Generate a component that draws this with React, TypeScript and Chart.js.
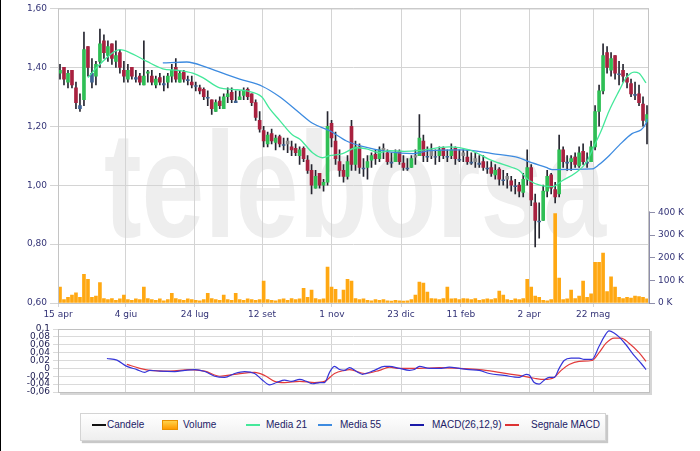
import React, { useEffect, useRef } from 'react';
import { Chart, registerables } from 'chart.js';

Chart.register(...registerables);
Chart.defaults.font.family = '"DejaVu Sans", sans-serif';
Chart.defaults.font.size = 9;

// ---- axis ticks ----
const xTickPos = [-0.5, 16.5, 33.8, 50.6, 68.1, 85.4, 100.4, 117.5, 133.5];
const xTickLabels = ['15 apr', '4 giu', '24 lug', '12 set', '1 nov', '23 dic', '11 feb', '2 apr', '22 mag'];
const priceTicks = [0.6, 0.8, 1.0, 1.2, 1.4, 1.6];
const volTicks = [0, 100000, 200000, 300000, 400000];
const macdTicks = [-0.06, -0.04, -0.02, 0, 0.02, 0.04, 0.06, 0.08, 0.1];

// ---- candles (one per bar index) ----
const openP = [
  1.38, 1.40, 1.35, 1.39, 1.33, 1.26, 1.29, 1.47, 1.35, 1.37,
  1.42, 1.49, 1.44, 1.48, 1.42, 1.45, 1.39, 1.36, 1.40, 1.36,
  1.37, 1.34, 1.38, 1.37, 1.34, 1.365, 1.34, 1.35, 1.37, 1.40,
  1.35, 1.385, 1.355, 1.35, 1.335, 1.33, 1.325, 1.295, 1.29, 1.25,
  1.285, 1.26, 1.30, 1.315, 1.28, 1.29, 1.305, 1.325, 1.31, 1.28,
  1.22, 1.185, 1.14, 1.175, 1.145, 1.165, 1.135, 1.15, 1.13, 1.125,
  1.10, 1.125, 1.085, 1.05, 0.99, 1.04, 1.00, 1.01, 1.21, 1.15,
  1.08, 1.05, 1.03, 1.20, 1.07, 1.13, 1.055, 1.06, 1.085, 1.105,
  1.09, 1.125, 1.11, 1.075, 1.08, 1.115, 1.075, 1.055, 1.06, 1.10,
  1.10, 1.15, 1.095, 1.12, 1.095, 1.10, 1.125, 1.095, 1.10, 1.125,
  1.085, 1.11, 1.095, 1.075, 1.09, 1.07, 1.08, 1.055, 1.06, 1.035,
  1.055, 1.015, 1.03, 1.015, 0.995, 1.00, 0.975, 1.02, 1.06, 0.94,
  0.875, 0.88, 0.98, 1.035, 0.985, 0.97, 1.12, 1.075, 1.08, 1.095,
  1.065, 1.115, 1.075, 1.08, 1.13, 1.25, 1.32, 1.45, 1.39, 1.44,
  1.375, 1.39, 1.365, 1.345, 1.305, 1.31, 1.275, 1.215,
];
const highP = [
  1.41, 1.40, 1.39, 1.39, 1.35, 1.31, 1.52, 1.47, 1.43, 1.42,
  1.53, 1.51, 1.49, 1.48, 1.49, 1.46, 1.42, 1.41, 1.40, 1.39,
  1.38, 1.49, 1.39, 1.39, 1.37, 1.38, 1.37, 1.38, 1.41, 1.43,
  1.39, 1.39, 1.37, 1.37, 1.35, 1.34, 1.33, 1.32, 1.29, 1.29,
  1.30, 1.31, 1.33, 1.33, 1.32, 1.32, 1.33, 1.33, 1.31, 1.29,
  1.25, 1.20, 1.18, 1.19, 1.17, 1.17, 1.16, 1.16, 1.15, 1.14,
  1.13, 1.13, 1.10, 1.07, 1.05, 1.04, 1.02, 1.25, 1.22, 1.18,
  1.12, 1.07, 1.10, 1.22, 1.15, 1.14, 1.09, 1.10, 1.11, 1.12,
  1.13, 1.14, 1.12, 1.11, 1.12, 1.12, 1.10, 1.09, 1.10, 1.12,
  1.24, 1.17, 1.13, 1.14, 1.12, 1.13, 1.13, 1.12, 1.14, 1.13,
  1.12, 1.12, 1.12, 1.11, 1.11, 1.10, 1.10, 1.08, 1.08, 1.07,
  1.06, 1.05, 1.04, 1.03, 1.02, 1.01, 1.04, 1.12, 1.07, 0.97,
  0.94, 1.00, 1.05, 1.04, 1.01, 1.17, 1.13, 1.10, 1.10, 1.11,
  1.13, 1.14, 1.11, 1.15, 1.27, 1.34, 1.48, 1.47, 1.45, 1.44,
  1.42, 1.41, 1.38, 1.36, 1.35, 1.34, 1.30, 1.27,
];
const lowP = [
  1.36, 1.34, 1.33, 1.33, 1.26, 1.25, 1.27, 1.37, 1.33, 1.34,
  1.40, 1.43, 1.42, 1.41, 1.40, 1.38, 1.35, 1.35, 1.36, 1.35,
  1.34, 1.34, 1.35, 1.34, 1.33, 1.34, 1.32, 1.33, 1.35, 1.35,
  1.35, 1.35, 1.34, 1.33, 1.32, 1.31, 1.29, 1.27, 1.24, 1.25,
  1.26, 1.26, 1.28, 1.28, 1.28, 1.29, 1.29, 1.29, 1.27, 1.22,
  1.18, 1.13, 1.13, 1.14, 1.12, 1.13, 1.12, 1.11, 1.10, 1.10,
  1.07, 1.08, 1.04, 0.97, 0.99, 0.99, 0.98, 1.00, 1.13, 1.07,
  1.03, 1.01, 1.02, 1.05, 1.05, 1.04, 1.03, 1.02, 1.06, 1.07,
  1.08, 1.09, 1.07, 1.06, 1.08, 1.07, 1.05, 1.05, 1.06, 1.07,
  1.10, 1.08, 1.08, 1.09, 1.07, 1.08, 1.09, 1.08, 1.09, 1.07,
  1.08, 1.08, 1.07, 1.07, 1.06, 1.06, 1.05, 1.04, 1.03, 1.02,
  1.00, 1.00, 0.99, 0.98, 0.97, 0.96, 0.96, 1.00, 0.93, 0.79,
  0.82, 0.88, 0.96, 0.97, 0.94, 0.96, 1.06, 1.05, 1.05, 1.06,
  1.06, 1.07, 1.06, 1.08, 1.12, 1.20, 1.31, 1.38, 1.37, 1.36,
  1.34, 1.35, 1.33, 1.30, 1.29, 1.27, 1.20, 1.14,
];
const closeP = [
  1.39, 1.36, 1.38, 1.34, 1.28, 1.27, 1.46, 1.40, 1.38, 1.41,
  1.48, 1.45, 1.47, 1.43, 1.44, 1.40, 1.37, 1.39, 1.37, 1.365,
  1.35, 1.37, 1.385, 1.35, 1.36, 1.35, 1.345, 1.37, 1.39, 1.36,
  1.38, 1.36, 1.358, 1.34, 1.338, 1.32, 1.30, 1.298, 1.26, 1.28,
  1.27, 1.30, 1.31, 1.29, 1.285, 1.30, 1.32, 1.30, 1.28, 1.23,
  1.19, 1.15, 1.17, 1.15, 1.16, 1.14, 1.138, 1.14, 1.12, 1.11,
  1.12, 1.09, 1.05, 1.00, 1.03, 1.00, 1.01, 1.20, 1.16, 1.09,
  1.05, 1.03, 1.08, 1.07, 1.13, 1.06, 1.058, 1.08, 1.10, 1.09,
  1.12, 1.12, 1.08, 1.078, 1.11, 1.08, 1.06, 1.058, 1.09, 1.095,
  1.16, 1.10, 1.098, 1.10, 1.097, 1.12, 1.10, 1.098, 1.12, 1.09,
  1.088, 1.10, 1.08, 1.078, 1.08, 1.075, 1.06, 1.058, 1.04, 1.05,
  1.02, 1.018, 1.02, 1.00, 0.998, 0.98, 1.02, 1.06, 0.95, 0.88,
  0.878, 0.98, 1.03, 0.99, 0.96, 1.12, 1.08, 1.078, 1.09, 1.07,
  1.11, 1.08, 1.078, 1.13, 1.25, 1.32, 1.44, 1.40, 1.43, 1.38,
  1.378, 1.37, 1.35, 1.31, 1.308, 1.28, 1.22, 1.24,
];
// volume in thousands
const volK = [
  70, 15, 25, 35, 45, 25, 127, 105, 25, 30,
  90, 20, 15, 20, 12, 18, 35, 15, 12, 18,
  15, 70, 20, 15, 12, 18, 10, 15, 43, 20,
  15, 12, 18, 15, 12, 10, 15, 43, 20, 15,
  12, 35, 15, 12, 43, 15, 12, 18, 15, 12,
  15, 97, 15, 12, 10, 15, 18, 12, 20, 15,
  18, 65, 25, 57, 20, 15, 18, 158, 70, 60,
  15, 57, 105, 97, 20, 15, 18, 12, 10, 15,
  12, 15, 10, 8, 12, 10, 8, 10, 15, 35,
  92, 88, 48, 20, 18, 15, 20, 70, 18, 20,
  15, 20, 18, 15, 20, 12, 15, 18, 15, 20,
  53, 35, 15, 12, 18, 15, 20, 105, 70, 30,
  25, 12, 10, 15, 395, 110, 15, 18, 57, 20,
  30, 97, 25, 40, 180, 180, 220, 50, 115, 70,
  25, 20, 25, 22, 30, 28, 25, 18,
];

// ---- moving averages (bar index, value) ----
const ma21X = [7, 9.25, 13.25, 15, 18.25, 21.75, 25.75, 29.25, 33.25, 35.75, 40, 43.25, 46.75, 50.5, 52.5, 55, 58.25, 60, 63.25, 65.75, 67.5, 70.75, 74.25, 76.75, 80, 82.5, 86.25, 90, 97.5, 102.5, 108.25, 113.25, 115, 117.5, 123.25, 125.75, 129.25, 131.75, 133.75, 135.5, 137.5, 140, 141.75, 143.75, 145, 146.75];
const ma21Y = [1.365, 1.40, 1.45, 1.46, 1.445, 1.42, 1.395, 1.39, 1.38, 1.365, 1.33, 1.325, 1.32, 1.30, 1.26, 1.22, 1.17, 1.157, 1.11, 1.093, 1.10, 1.107, 1.127, 1.123, 1.11, 1.117, 1.115, 1.118, 1.13, 1.12, 1.083, 1.06, 1.05, 1.016, 0.995, 1.015, 1.043, 1.076, 1.133, 1.184, 1.252, 1.32, 1.364, 1.384, 1.38, 1.347];
const ma55X = [25.75, 31.75, 36.75, 41.75, 45, 50.75, 55, 60, 63.25, 67.5, 71.75, 75.75, 82.5, 88.25, 92.5, 100.75, 108.25, 115, 116.75, 121.75, 123.25, 133.25, 135, 137.5, 140, 143.25, 146.75, 147];
const ma55Y = [1.415, 1.418, 1.40, 1.375, 1.36, 1.335, 1.30, 1.245, 1.21, 1.185, 1.15, 1.132, 1.113, 1.107, 1.117, 1.12, 1.107, 1.093, 1.083, 1.06, 1.053, 1.055, 1.07, 1.10, 1.135, 1.175, 1.21, 1.225];

// ---- MACD panel ----
const macdX = [11.75, 14.25, 16.75, 19.25, 21.25, 22.5, 25, 28.75, 31.25, 33.75, 36.25, 38.75, 41.25, 43.75, 46.25, 48.75, 50.5, 52.5, 54.25, 56.25, 58, 60, 61.75, 63.25, 65, 66.25, 67.5, 68.75, 70, 71.25, 72.5, 74.25, 75.75, 78.75, 81.25, 82.5, 85, 87.5, 88.75, 90, 92.5, 95, 97.5, 100, 102.5, 105, 107.5, 111.25, 115, 116.75, 117.5, 118.75, 120, 121.25, 122.5, 123.75, 125, 126.25, 128, 130, 131.25, 133.25, 135, 136.25, 137.5, 138.75, 140, 141.75, 143.75, 145.5, 146.75];
const macdY = [0.025, 0.021, 0.005, -0.003, -0.01, -0.005, -0.007, -0.008, -0.005, -0.003, -0.008, -0.02, -0.023, -0.013, -0.008, -0.013, -0.028, -0.042, -0.036, -0.03, -0.033, -0.028, -0.033, -0.039, -0.036, -0.036, -0.01, 0.005, -0.003, -0.005, 0.002, -0.008, -0.015, -0.005, 0.005, 0.005, 0, -0.005, -0.003, 0.005, 0, 0, 0.003, 0, -0.003, -0.005, -0.013, -0.018, -0.023, -0.015, -0.017, -0.036, -0.04, -0.03, -0.023, -0.023, 0, 0.02, 0.026, 0.026, 0.023, 0.023, 0.056, 0.08, 0.095, 0.09, 0.08, 0.06, 0.033, 0.013, -0.003];
const sigX = [16.75, 20, 22.5, 27.5, 32.5, 36.25, 40, 43.75, 48.75, 51.25, 53.75, 56.25, 60, 63.75, 66.25, 68.75, 71.25, 72.5, 76.25, 80, 82.5, 85, 90, 95, 100, 105, 110, 115, 118.75, 121.25, 123.75, 125.5, 127.5, 130, 133.25, 135, 136.75, 138.75, 140.5, 142.5, 145, 146.75];
const sigY = [0.01, 0, -0.005, -0.007, -0.003, -0.007, -0.02, -0.015, -0.01, -0.018, -0.033, -0.036, -0.033, -0.036, -0.033, -0.013, -0.005, -0.003, -0.013, -0.005, 0.003, 0, 0, 0.002, 0, -0.003, -0.01, -0.018, -0.025, -0.028, -0.023, -0.005, 0.01, 0.018, 0.02, 0.04, 0.064, 0.077, 0.077, 0.064, 0.04, 0.018];

// ---- legend ----
const legendLabels = ['Candele', 'Volume', 'Media 21', 'Media 55', 'MACD(26,12,9)', 'Segnale MACD'];
const legendColors = ['#111111', '#ffa500', '#44e89a', '#3d8be0', '#1a1aa8', '#dd3333'];
const legendSwatchX = [92, 162, 246, 318, 410, 505];
const legendTextX = [107, 183, 266, 340, 432, 531];

const TICK_COLOR = '#333377';
const GRID_COLOR = '#d4d4d4';

function bodyColor(i: number): string {
  const o = openP[i], c = closeP[i];
  const prev = i > 0 ? closeP[i - 1] : o;
  if (c >= o && c >= prev) return '#2fbf55';
  if (c < o && c < prev) return '#a8213f';
  if (c >= o) return '#3f6394';
  return '#8a8a8a';
}

const pts = (xs: number[], ys: number[]) => xs.map((x, k) => ({ x, y: ys[k] }));

const xScaleBase = {
  type: 'linear' as const,
  min: -0.5,
  max: 147.5,
  offset: false,
  afterBuildTicks: (s: any) => {
    s.ticks = xTickPos.map((v) => ({ value: v }));
  },
};

const watermark = {
  id: 'watermark',
  beforeDraw(chart: any) {
    const ctx = chart.ctx;
    ctx.save();
    ctx.fillStyle = '#eeeeee';
    ctx.font = 'bold 150px "Liberation Sans", sans-serif';
    const w = ctx.measureText('teleborsa').width;
    ctx.translate(104, 237);
    ctx.scale(502 / w, 1);
    ctx.textBaseline = 'alphabetic';
    ctx.fillText('teleborsa', 0, 0);
    ctx.restore();
  },
};

const mainFrame = {
  id: 'mainFrame',
  afterDraw(chart: any) {
    const { ctx, chartArea: a } = chart;
    ctx.save();
    ctx.strokeStyle = '#c4c4c4';
    ctx.lineWidth = 1;
    ctx.strokeRect(a.left + 0.5, a.top + 0.5, a.right - a.left - 1, a.bottom - a.top);
    const yv = chart.scales.yVol;
    ctx.strokeStyle = '#8e8eaa';
    ctx.beginPath();
    ctx.moveTo(a.right + 0.5, yv.getPixelForValue(400000) - 1);
    ctx.lineTo(a.right + 0.5, a.bottom);
    ctx.stroke();
    ctx.restore();
  },
};

const macdFrame = {
  id: 'macdFrame',
  afterDraw(chart: any) {
    const { ctx, chartArea: a } = chart;
    ctx.save();
    ctx.fillStyle = '#d6d6d6';
    ctx.fillRect(a.right + 1, a.top + 2, 2, a.bottom - a.top + 1);
    ctx.fillRect(a.left + 2, a.bottom + 1, a.right - a.left + 1, 2);
    ctx.strokeStyle = '#c0c0c0';
    ctx.lineWidth = 1;
    ctx.strokeRect(a.left + 0.5, a.top + 0.5, a.right - a.left, a.bottom - a.top);
    ctx.restore();
  },
};

function MainChart() {
  const ref = useRef<HTMLCanvasElement>(null);
  useEffect(() => {
    const idx = closeP.map((_, i) => i);
    const chart = new Chart(ref.current as HTMLCanvasElement, {
      type: 'bar',
      data: {
        datasets: [
          {
            type: 'line',
            label: 'Media 21',
            data: pts(ma21X, ma21Y),
            borderColor: '#44e89a',
            borderWidth: 1.3,
            pointRadius: 0,
            cubicInterpolationMode: 'monotone',
            yAxisID: 'y',
            order: 0,
          } as any,
          {
            type: 'line',
            label: 'Media 55',
            data: pts(ma55X, ma55Y),
            borderColor: '#3d8be0',
            borderWidth: 1.3,
            pointRadius: 0,
            cubicInterpolationMode: 'monotone',
            yAxisID: 'y',
            order: 0,
          } as any,
          {
            label: 'Candele',
            data: idx.map((i) => ({ x: i, y: [openP[i], closeP[i]] })),
            backgroundColor: idx.map(bodyColor),
            barThickness: 3,
            grouped: false,
            yAxisID: 'y',
            order: 1,
          } as any,
          {
            label: 'wick',
            data: idx.map((i) => ({ x: i, y: [lowP[i], highP[i]] })),
            backgroundColor: '#262630',
            barThickness: 1,
            grouped: false,
            yAxisID: 'y',
            order: 2,
          } as any,
          {
            label: 'Volume',
            data: idx.map((i) => ({ x: i, y: volK[i] * 1000 })),
            backgroundColor: '#ffa812',
            barThickness: 3,
            grouped: false,
            yAxisID: 'yVol',
            order: 3,
          } as any,
        ],
      },
      options: {
        responsive: false,
        animation: false,
        devicePixelRatio: 1,
        events: [],
        layout: { padding: { top: 7, left: 0, right: 0, bottom: 0 } },
        plugins: { legend: { display: false }, tooltip: { enabled: false } },
        scales: {
          x: {
            ...xScaleBase,
            grid: { color: GRID_COLOR, tickLength: 4, offset: false },
            border: { display: false },
            ticks: {
              autoSkip: false,
              maxRotation: 0,
              padding: 2,
              color: TICK_COLOR,
              font: { size: 9 },
              callback: (_v: any, i: number) => xTickLabels[i],
            },
            afterFit: (s: any) => {
              s.height = 17;
            },
          } as any,
          y: {
            position: 'left',
            min: 0.6,
            max: 1.6,
            afterBuildTicks: (s: any) => {
              s.ticks = priceTicks.map((v) => ({ value: v }));
            },
            grid: { color: GRID_COLOR, tickLength: 8 },
            border: { display: false },
            ticks: {
              padding: 3,
              color: TICK_COLOR,
              font: { size: 9 },
              callback: (v: any) => Number(v).toFixed(2).replace('.', ','),
            },
            afterFit: (s: any) => {
              s.width = 58;
            },
          } as any,
          yVol: {
            position: 'right',
            min: 0,
            max: 1300000,
            afterBuildTicks: (s: any) => {
              s.ticks = volTicks.map((v) => ({ value: v }));
            },
            grid: { drawOnChartArea: false, tickLength: 6, color: '#8e8eaa' },
            border: { display: false },
            ticks: {
              padding: 3,
              color: TICK_COLOR,
              font: { size: 9 },
              callback: (v: any) => Math.round(Number(v) / 1000) + ' K',
            },
            afterFit: (s: any) => {
              s.width = 51;
            },
          } as any,
        },
      },
      plugins: [watermark, mainFrame],
    });
    return () => chart.destroy();
  }, []);
  return (
    <canvas
      ref={ref}
      width={700}
      height={320}
      style={{ position: 'absolute', left: 0, top: 0, width: 700, height: 320 }}
    />
  );
}

function MacdChart() {
  const ref = useRef<HTMLCanvasElement>(null);
  useEffect(() => {
    const chart = new Chart(ref.current as HTMLCanvasElement, {
      type: 'line',
      data: {
        datasets: [
          {
            label: 'MACD(26,12,9)',
            data: pts(macdX, macdY),
            borderColor: '#3535d8',
            borderWidth: 1.2,
            pointRadius: 0,
            cubicInterpolationMode: 'monotone',
          },
          {
            label: 'Segnale MACD',
            data: pts(sigX, sigY),
            borderColor: '#e23a3a',
            borderWidth: 1.2,
            pointRadius: 0,
            cubicInterpolationMode: 'monotone',
          },
        ],
      },
      options: {
        responsive: false,
        animation: false,
        devicePixelRatio: 1,
        events: [],
        layout: { padding: { top: 9, left: 0, right: 51, bottom: 8 } },
        plugins: { legend: { display: false }, tooltip: { enabled: false } },
        scales: {
          x: {
            ...xScaleBase,
            grid: { color: GRID_COLOR, drawTicks: false, offset: false },
            border: { display: false },
            ticks: { display: false },
            afterFit: (s: any) => {
              s.height = 0;
            },
          } as any,
          y: {
            min: -0.06,
            max: 0.1,
            afterBuildTicks: (s: any) => {
              s.ticks = macdTicks.map((v) => ({ value: v }));
            },
            grid: { color: '#dadada', tickLength: 5 },
            border: { display: false },
            ticks: {
              autoSkip: false,
              padding: 3,
              color: '#222255',
              font: { size: 9, lineHeight: 1 },
              callback: (v: any) => {
                const r = Math.round(Number(v) * 100) / 100;
                return r === 0 ? '0' : String(r).replace('.', ',');
              },
            },
            afterFit: (s: any) => {
              s.width = 58;
            },
          } as any,
        },
      },
      plugins: [macdFrame],
    });
    return () => chart.destroy();
  }, []);
  return (
    <canvas
      ref={ref}
      width={700}
      height={80}
      style={{ position: 'absolute', left: 0, top: 320, width: 700, height: 80 }}
    />
  );
}

function Legend() {
  return (
    <>
      <div
        style={{
          position: 'absolute',
          left: 80,
          top: 413,
          width: 524,
          height: 26,
          border: '1px solid #d4d4d4',
          background: 'linear-gradient(#ffffff, #eeeeee)',
          boxShadow: '2px 2px 1px #c8c8c8',
        }}
      />
      {legendLabels.map((lab, k) => (
        <React.Fragment key={lab}>
          {k === 1 ? (
            <div
              style={{
                position: 'absolute',
                left: legendSwatchX[k],
                top: 420,
                width: 16,
                height: 10,
                background: 'linear-gradient(#ffd24a, #ff9a00)',
                border: '1px solid #e89000',
                boxSizing: 'border-box',
              }}
            />
          ) : (
            <div
              style={{
                position: 'absolute',
                left: legendSwatchX[k],
                top: 424,
                width: 14,
                height: 2,
                background: legendColors[k],
              }}
            />
          )}
          <div
            style={{
              position: 'absolute',
              left: legendTextX[k],
              top: 418,
              font: '10px "Liberation Sans", sans-serif',
              lineHeight: '14px',
              color: '#222266',
              whiteSpace: 'nowrap',
            }}
          >
            {lab}
          </div>
        </React.Fragment>
      ))}
    </>
  );
}

export default function App() {
  return (
    <div
      style={{
        position: 'fixed',
        left: 0,
        top: 0,
        width: 700,
        height: 451,
        background: '#ffffff',
        overflow: 'hidden',
      }}
    >
      <MainChart />
      <MacdChart />
      <Legend />
      <div style={{ position: 'absolute', left: 0, top: 0, width: 1, height: 451, background: '#000' }} />
    </div>
  );
}
